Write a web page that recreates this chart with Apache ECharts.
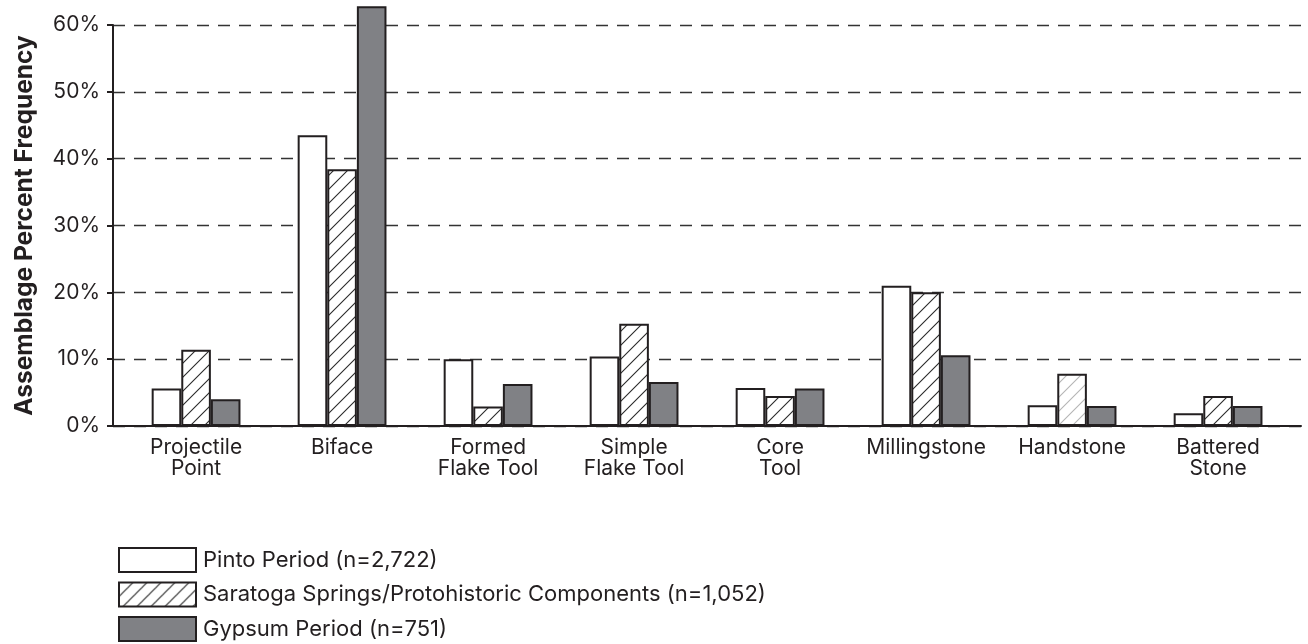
<!DOCTYPE html>
<html><head><meta charset="utf-8">
<script src="https://cdn.jsdelivr.net/npm/echarts@6/dist/echarts.min.js"></script>
<style>html,body{margin:0;padding:0;background:#fff}#c{width:1308px;height:644px}</style>
</head><body><div id="c"></div>
<script>
const categories = ['Projectile\nPoint','Biface','Formed\nFlake Tool','Simple\nFlake Tool','Core\nTool','Millingstone','Handstone','Battered\nStone'];
const pinto    = [5.6, 43.5, 10.0, 10.4, 5.7, 21.0, 3.1, 1.9];
const saratoga = [11.4, 38.4, 2.9, 15.3, 4.5, 20.0, 7.8, 4.5];
const gypsum   = [4.0, 62.8, 6.3, 6.6, 5.6, 10.6, 3.0, 3.0];
const yTicks = [0, 10, 20, 30, 40, 50, 60];
const seriesNames = ['Pinto Period (n=2,722)', 'Saratoga Springs/Protohistoric Components (n=1,052)', 'Gypsum Period (n=751)'];

const INK = '#231f20';
const FONT = 'Inter, "Liberation Sans", Arial, sans-serif';

function hatch(color){
  const s = 14, c = document.createElement('canvas');
  c.width = s; c.height = s;
  const g = c.getContext('2d');
  g.fillStyle = '#fff'; g.fillRect(0,0,s,s);
  g.strokeStyle = color; g.lineWidth = 1.1;
  g.beginPath();
  g.moveTo(0,s); g.lineTo(s,0);
  g.moveTo(-1,1); g.lineTo(1,-1);
  g.moveTo(s-1,s+1); g.lineTo(s+1,s-1);
  g.stroke();
  return {image: c, repeat: 'repeat'};
}
const hatchDark = hatch('#2a2a2a');
const hatchLight = hatch('#b5b5b5');

const catIdx = categories.map((_, i) => i);
function mk(name, vals, fill, special){
  return {
    type: 'bar', name,
    data: vals.map((v, i) => {
      const d = {value: [i, v]};
      if (special && special(i)) d.itemStyle = special(i);
      return d;
    }),
    barWidth: 29.6, barGap: '0%', clip: false,
    itemStyle: {color: fill, borderColor: INK, borderWidth: 2},
    emphasis: {disabled: true}
  };
}

const legendTops = [547, 581.5, 616];
const legends = seriesNames.map((n, k) => ({
  orient: 'vertical', left: 118, top: legendTops[k], padding: 0,
  itemWidth: 77, itemHeight: 24, itemGap: 0,
  icon: 'rect', selectedMode: false,
  data: [n],
  textStyle: {fontFamily: FONT, fontSize: 22, color: INK, padding: [0,0,0,2]}
}));

const chart = echarts.init(document.getElementById('c'), null, {renderer: 'canvas'});
chart.setOption({
  animation: false,
  backgroundColor: '#fff',
  grid: {left: 113, right: 7, top: 25, bottom: 218, containLabel: false},
  xAxis: {
    type: 'value', min: -0.569, max: 7.568,
    axisLine: {show: true, onZero: false, lineStyle: {color: INK, width: 2}},
    axisTick: {show: false},
    splitLine: {show: false},
    axisLabel: {
      customValues: catIdx,
      formatter: v => categories[Math.round(v)] || '',
      fontFamily: FONT, fontSize: 21, lineHeight: 21, color: INK, margin: 11,
      showMinLabel: true, showMaxLabel: true
    }
  },
  yAxis: {
    type: 'value', min: 0, max: 60, interval: 10,
    name: 'Assemblage Percent Frequency', nameLocation: 'middle', nameGap: 76,
    nameTextStyle: {fontFamily: FONT, fontWeight: 'bold', fontSize: 24.5, color: INK},
    axisLine: {show: true, onZero: false, lineStyle: {color: INK, width: 2}},
    axisTick: {show: true, length: 6, lineStyle: {color: INK, width: 2}},
    axisLabel: {
      formatter: v => yTicks.includes(v) ? v + '%' : '',
      fontFamily: FONT, fontSize: 21, color: INK, margin: 13
    },
    splitLine: {show: true, lineStyle: {color: '#333', width: 1.3, type: [12, 9]}}
  },
  legend: legends,
  series: [
    mk(seriesNames[0], pinto, '#ffffff'),
    mk(seriesNames[1], saratoga, hatchDark, i => categories[i] === 'Handstone' ? {color: hatchLight} : null),
    mk(seriesNames[2], gypsum, '#808185')
  ]
});
</script>
</body></html>
